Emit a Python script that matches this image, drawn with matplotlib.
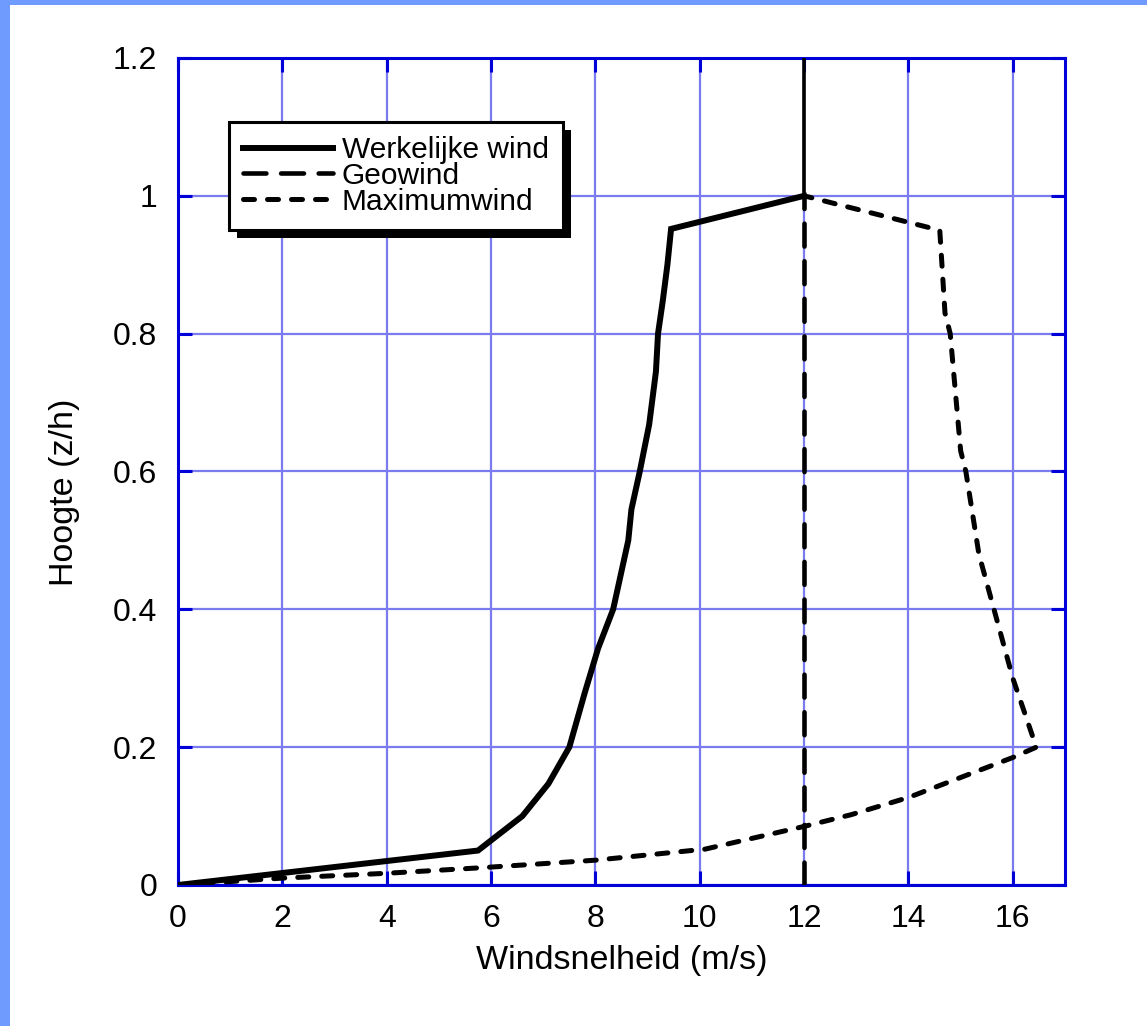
import matplotlib
matplotlib.use("Agg")
import matplotlib.pyplot as plt
from matplotlib.patches import Rectangle
from matplotlib.transforms import IdentityTransform

plt.rcParams['font.family'] = ['Liberation Sans', 'DejaVu Sans']

# ---- data ----
werkelijk_x = [0, 5.75, 6.6, 7.1, 7.5, 7.8, 8.05, 8.34, 8.63, 8.69, 8.85, 9.03, 9.16, 9.2, 9.29, 9.38, 9.45, 12.0]
werkelijk_y = [0, 0.05, 0.10, 0.147, 0.20, 0.28, 0.343, 0.40, 0.50, 0.545, 0.60, 0.668, 0.745, 0.80, 0.847, 0.90, 0.952, 1.0]

geo_x = [12.0, 12.0]
geo_y = [0.0, 1.0]

top_x = [12.0, 12.0]
top_y = [1.0, 1.2]

max_x = [0, 2.0, 4.0, 5.8, 8.0, 10.1, 12.0, 12.9, 14.0, 16.0, 16.45, 16.0, 15.35, 15.1, 15.0, 14.8, 14.7, 14.6, 12.0]
max_y = [0, 0.01, 0.017, 0.025, 0.036, 0.052, 0.085, 0.102, 0.127, 0.185, 0.20, 0.30, 0.48, 0.60, 0.63, 0.80, 0.83, 0.95, 1.0]

labels = ['Werkelijke wind', 'Geowind', 'Maximumwind']
xticks = [0, 2, 4, 6, 8, 10, 12, 14, 16]
yticks = [0, 0.2, 0.4, 0.6, 0.8, 1.0, 1.2]
yticklabels = ['0', '0.2', '0.4', '0.6', '0.8', '1', '1.2']

W, H = 1147, 1026
fig = plt.figure(figsize=(W / 100, H / 100), dpi=100)
fig.patch.set_facecolor('white')

# light-blue frame on left and top
fig.patches.append(Rectangle((0, 0), 10 / W, 1, transform=fig.transFigure,
                             facecolor='#6F9BFF', edgecolor='none', zorder=-1))
fig.patches.append(Rectangle((0, 1 - 5 / H), 1, 5 / H, transform=fig.transFigure,
                             facecolor='#6F9BFF', edgecolor='none', zorder=-1))

ax = fig.add_axes([178 / W, 1 - 885 / H, (1065 - 178) / W, (885 - 58) / H])
ax.set_xlim(0, 17)
ax.set_ylim(0, 1.2)

spine_col = '#0000D8'
grid_col = '#7B7BF0'
for s in ax.spines.values():
    s.set_color(spine_col)
    s.set_linewidth(2.2)
    s.set_zorder(3)

ax.set_xticks(xticks)
ax.set_xticklabels([str(v) for v in xticks])
ax.set_yticks(yticks)
ax.set_yticklabels(yticklabels)
ax.tick_params(axis='both', direction='in', length=10, width=2.2, color=spine_col,
               top=True, right=True, labelsize=23)
ax.tick_params(axis='x', pad=14)
ax.tick_params(axis='y', pad=15)
ax.grid(True, color=grid_col, linewidth=1.6)
ax.set_axisbelow(True)

l1, = ax.plot(werkelijk_x, werkelijk_y, color='black', lw=4.3,
              solid_joinstyle='miter', label=labels[0], zorder=4)
l2, = ax.plot(geo_x, geo_y, color='black', lw=3.3, linestyle=(0, (5.0, 3.2)),
              dash_capstyle='round', label=labels[1], zorder=4)
ax.plot(top_x, top_y, color='black', lw=2.6, zorder=4)
l3, = ax.plot(max_x, max_y, color='black', lw=3.6, linestyle=(0, (2.2, 2.6)),
              dash_capstyle='round', label=labels[2], zorder=4)

ax.set_xlabel('Windsnelheid (m/s)', fontsize=24.5)
ax.set_ylabel('Hoogte (z/h)', fontsize=24.5)
ax.xaxis.set_label_coords(0.5, -0.072)
ax.yaxis.set_label_coords(-0.110, 0.475)

leg = ax.legend(handles=[l1, l2, l3], loc='upper left',
                bbox_to_anchor=(229 / W, 1 - 122 / H), bbox_transform=fig.transFigure,
                borderaxespad=0, frameon=True, fancybox=False, fontsize=21.5,
                handlelength=3.0, handletextpad=0.3, labelspacing=-0.08,
                borderpad=0.48)
leg.get_frame().set_edgecolor('black')
leg.get_frame().set_linewidth(2.2)
leg.get_frame().set_facecolor('white')
leg.get_frame().set_alpha(1)
leg.set_zorder(6)

fig.canvas.draw()
bb = leg.get_window_extent()
shadow = Rectangle((bb.x0 + 8, bb.y0 - 8), bb.width, bb.height, transform=IdentityTransform(),
                   facecolor='black', edgecolor='none', zorder=5.5)
ax.add_artist(shadow)

fig.savefig('out.png', dpi=100, facecolor='white')
